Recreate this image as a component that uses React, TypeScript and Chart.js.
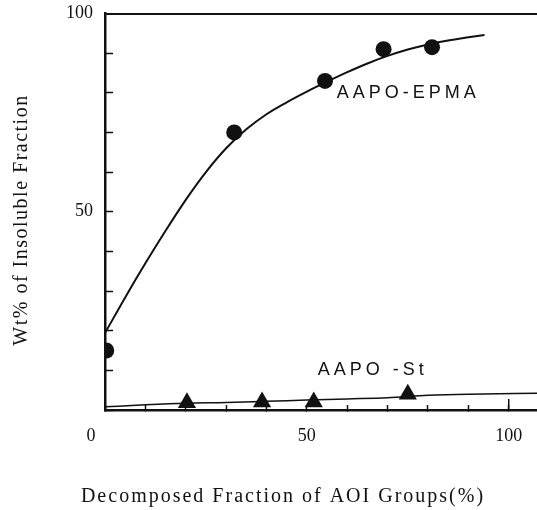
import React, { useEffect, useRef } from "react";
import { Chart, registerables } from "chart.js";

Chart.register(...registerables);

// AAPO-EPMA measured points
const epmaX = [0.3, 32, 54.5, 69, 81];
const epmaY = [15, 70, 83, 91, 91.5];
// AAPO-EPMA fitted curve
const epmaCurveX = [0, 5, 10, 15, 20, 25, 30, 35, 40, 45, 50, 55, 60, 65, 70, 75, 80, 85, 90, 94];
const epmaCurveY = [19.4, 28.4, 37, 45.2, 53, 60, 66, 70.8, 74.6, 77.6, 80.3, 82.8, 85.2, 87.4, 89.3, 90.9, 92.2, 93.2, 94, 94.6];
// AAPO-St measured points
const stX = [20.3, 38.9, 51.7, 75];
const stY = [1.8, 2.0, 2.0, 4.0];
// AAPO-St curve
const stLineX = [0, 10, 20, 30, 40, 50, 60, 70, 80, 90, 107];
const stLineY = [0.8, 1.3, 1.7, 1.9, 2.2, 2.5, 2.8, 3.1, 3.7, 4.0, 4.2];

// tick labels
const xLabelValues = [50, 100];
const yLabelValues = [50, 100];
const xLongTickValues = [100];

// series labels (in data coordinates)
const seriesLabelTexts = ["AAPO-EPMA", "AAPO -St"];
const seriesLabelX = [57.4, 52.7];
const seriesLabelY = [78.7, 8.8];

const xTitle = "Decomposed Fraction of AOI Groups(%)";
const yTitle = "Wt% of Insoluble Fraction";

const INK = "#111";

const toPoints = (xs: number[], ys: number[]) => xs.map((x, i) => ({ x, y: ys[i] }));

const textPlugin = {
  id: "texts",
  afterDraw(chart: any) {
    const ctx = chart.ctx as CanvasRenderingContext2D;
    const xs = chart.scales.x;
    const ys = chart.scales.y;
    ctx.save();
    // longer tick marks
    ctx.strokeStyle = INK;
    ctx.lineWidth = 1.5;
    xLongTickValues.forEach((v) => {
      const px = xs.getPixelForValue(v);
      ctx.beginPath();
      ctx.moveTo(px, xs.top);
      ctx.lineTo(px, xs.top - 11);
      ctx.stroke();
    });
    ctx.fillStyle = INK;
    // series labels
    ctx.font = '18px "Liberation Sans", Arial, sans-serif';
    (ctx as any).letterSpacing = "4px";
    ctx.textAlign = "left";
    ctx.textBaseline = "alphabetic";
    seriesLabelTexts.forEach((t, i) => {
      ctx.fillText(t, xs.getPixelForValue(seriesLabelX[i]), ys.getPixelForValue(seriesLabelY[i]));
    });
    // "0" origin label
    (ctx as any).letterSpacing = "0px";
    ctx.font = '18px "Liberation Serif", serif';
    ctx.textAlign = "center";
    ctx.textBaseline = "middle";
    ctx.fillText("0", xs.getPixelForValue(0) - 14, 436);
    // x title
    ctx.font = '20px "Liberation Serif", serif';
    (ctx as any).letterSpacing = "2px";
    ctx.fillText(xTitle, 283, 497);
    // y title
    (ctx as any).letterSpacing = "1.5px";
    ctx.translate(22, 220);
    ctx.rotate(-Math.PI / 2);
    ctx.fillText(yTitle, 0, 0);
    ctx.restore();
  },
};

export default function App() {
  const canvasRef = useRef<HTMLCanvasElement | null>(null);

  useEffect(() => {
    const canvas = canvasRef.current;
    if (!canvas) return;
    const chart = new Chart(canvas, {
      type: "scatter",
      data: {
        datasets: [
          {
            data: toPoints(epmaCurveX, epmaCurveY),
            showLine: true,
            borderColor: INK,
            borderWidth: 2,
            pointRadius: 0,
            cubicInterpolationMode: "monotone",
          },
          {
            data: toPoints(stLineX, stLineY),
            showLine: true,
            borderColor: INK,
            borderWidth: 1.5,
            pointRadius: 0,
            cubicInterpolationMode: "monotone",
          },
          {
            data: toPoints(epmaX, epmaY),
            showLine: false,
            pointRadius: 8,
            pointBackgroundColor: INK,
            pointBorderColor: INK,
            pointBorderWidth: 0,
            clip: 0,
          },
          {
            data: toPoints(stX, stY),
            showLine: false,
            pointStyle: "triangle",
            pointRadius: 10.5,
            pointBackgroundColor: INK,
            pointBorderColor: INK,
            pointBorderWidth: 0,
          },
        ] as any,
      },
      options: {
        animation: false,
        responsive: false,
        devicePixelRatio: 1,
        events: [],
        layout: { autoPadding: false, padding: { top: 13.5, left: 0, right: 0, bottom: 0 } },
        plugins: { legend: { display: false }, tooltip: { enabled: false } },
        scales: {
          x: {
            type: "linear",
            min: 0,
            max: 107,
            z: 1,
            afterFit: (s: any) => {
              s.height = 100;
              s.paddingLeft = 0;
              s.paddingRight = 0;
            },
            border: { display: true, color: INK, width: 2.5 },
            grid: {
              drawOnChartArea: false,
              drawTicks: true,
              tickLength: -5,
              tickColor: INK,
              tickWidth: 1.5,
            },
            ticks: {
              stepSize: 10,
              includeBounds: false,
              padding: 20,
              color: INK,
              font: { family: '"Liberation Serif", serif', size: 18 },
              maxRotation: 0,
              autoSkip: false,
              callback: (v: any) => (xLabelValues.includes(Number(v)) ? String(v) : ""),
            },
          },
          y: {
            type: "linear",
            min: 0,
            max: 100,
            z: 1,
            afterFit: (s: any) => {
              s.width = 105;
              s.paddingTop = 0;
              s.paddingBottom = 0;
            },
            border: { display: true, color: INK, width: 2.5 },
            grid: {
              drawOnChartArea: true,
              color: (c: any) => (c.tick && c.tick.value === 100 ? INK : "rgba(0,0,0,0)"),
              lineWidth: (c: any) => (c.tick && c.tick.value === 100 ? 2 : 1),
              drawTicks: true,
              tickLength: -8,
              tickColor: INK,
              tickWidth: 1.5,
            },
            ticks: {
              stepSize: 10,
              padding: 20,
              color: INK,
              font: { family: '"Liberation Serif", serif', size: 18 },
              autoSkip: false,
              callback: (v: any) => (yLabelValues.includes(Number(v)) ? String(v) : ""),
            },
          },
        },
      } as any,
      plugins: [textPlugin],
    });
    return () => chart.destroy();
  }, []);

  return (
    <div style={{ position: "absolute", left: 0, top: 0, width: 537, height: 510, background: "#fff" }}>
      <canvas ref={canvasRef} width={537} height={510} style={{ display: "block", width: 537, height: 510 }} />
    </div>
  );
}
